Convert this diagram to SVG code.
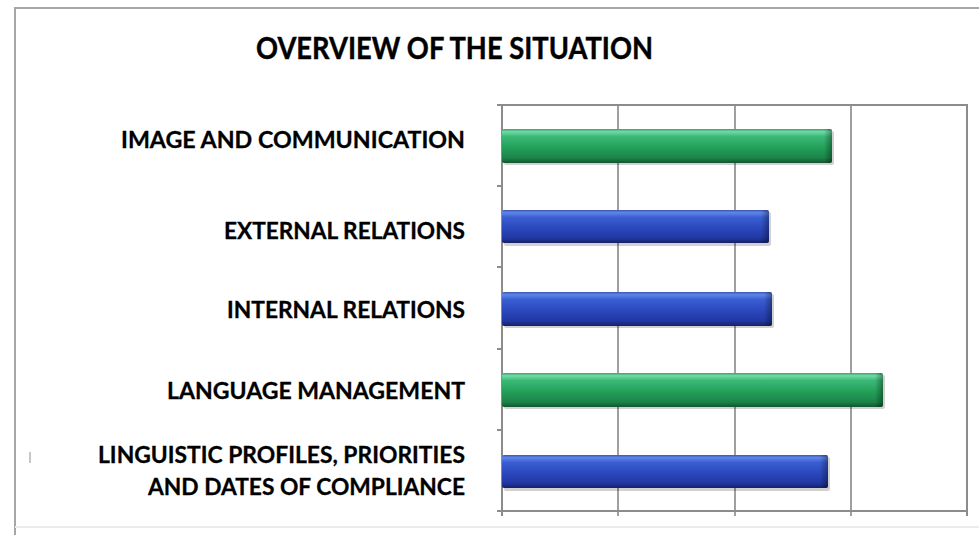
<svg xmlns="http://www.w3.org/2000/svg" width="979" height="535" viewBox="0 0 979 535">
  <defs>
    <linearGradient id="gGreen" x1="0" y1="0" x2="0" y2="1">
      <stop offset="0" stop-color="#3f9e6a"/>
      <stop offset="0.08" stop-color="#6fdca6"/>
      <stop offset="0.22" stop-color="#3cb877"/>
      <stop offset="0.55" stop-color="#22a058"/>
      <stop offset="0.85" stop-color="#1c8449"/>
      <stop offset="1" stop-color="#135530"/>
    </linearGradient>
    <linearGradient id="gBlue" x1="0" y1="0" x2="0" y2="1">
      <stop offset="0" stop-color="#3a56b0"/>
      <stop offset="0.08" stop-color="#5f86ea"/>
      <stop offset="0.22" stop-color="#3a5fd2"/>
      <stop offset="0.55" stop-color="#2b48bd"/>
      <stop offset="0.85" stop-color="#2237a2"/>
      <stop offset="1" stop-color="#152166"/>
    </linearGradient>
    <linearGradient id="gEnd" x1="0" y1="0" x2="1" y2="0">
      <stop offset="0" stop-color="#000" stop-opacity="0"/>
      <stop offset="1" stop-color="#000" stop-opacity="0.35"/>
    </linearGradient>
  </defs>
  <style>
    .lbl { font-family: Lato, "Liberation Sans", sans-serif; font-weight: bold; font-size: 23px; fill: #000; text-anchor: end; stroke: #000; stroke-width: 0.3px; }
    .title { font-family: Lato, "Liberation Sans", sans-serif; font-weight: bold; font-size: 30px; fill: #000; stroke: #000; stroke-width: 0.4px; }
    .frame { fill: none; stroke: #a6a6a6; stroke-width: 2; }
    .grid { stroke: #7f7f7f; stroke-width: 1.5; fill: none; }
    .axis { stroke: #8c8c8c; stroke-width: 2; fill: none; }
    .shadow { fill: #000; opacity: 0.18; }
    .green { fill: url(#gGreen); }
    .blue { fill: url(#gBlue); }
    .endshade { fill: url(#gEnd); }
  </style>

  <rect width="979" height="535" fill="#ffffff"/>

  <g id="frame">
    <path class="frame" d="M15,535 V8 H979"/>
    <line x1="15" y1="527" x2="979" y2="527" stroke="#ececec" stroke-width="2"/>
    <rect x="29" y="452" width="2" height="11" fill="#c8c8c8"/>
  </g>

  <g id="title">
    <text class="title" x="256" y="59" textLength="397" lengthAdjust="spacingAndGlyphs">OVERVIEW OF THE SITUATION</text>
  </g>

  <g id="plot">
    <rect x="502" y="105" width="465" height="406" fill="#ffffff"/>
    <line class="grid" x1="618" y1="105" x2="618" y2="516"/>
    <line class="grid" x1="735" y1="105" x2="735" y2="516"/>
    <line class="grid" x1="851" y1="105" x2="851" y2="516"/>
    <path class="axis" d="M502,105 H967 V511 H502 Z"/>
    <path class="axis" d="M497,105 H502 M497,186 H502 M497,267 H502 M497,349 H502 M497,430 H502 M497,511 H502 M502,511 V516 M967,511 V516"/>
  </g>

  <g id="bar-image">
    <rect class="shadow" x="504" y="131" width="330" height="34" rx="2"/>
    <rect class="green" x="502" y="129" width="330" height="34" rx="2"/>
    <rect class="endshade" x="824" y="129" width="8" height="34" rx="2"/>
  </g>
  <g id="bar-external">
    <rect class="shadow" x="504" y="212" width="267" height="34" rx="2"/>
    <rect class="blue" x="502" y="210" width="267" height="33" rx="2"/>
    <rect class="endshade" x="761" y="210" width="8" height="33" rx="2"/>
  </g>
  <g id="bar-internal">
    <rect class="shadow" x="504" y="294" width="270" height="34" rx="2"/>
    <rect class="blue" x="502" y="292" width="270" height="34" rx="2"/>
    <rect class="endshade" x="764" y="292" width="8" height="34" rx="2"/>
  </g>
  <g id="bar-language">
    <rect class="shadow" x="504" y="375" width="381" height="34" rx="2"/>
    <rect class="green" x="502" y="373" width="381" height="34" rx="2"/>
    <rect class="endshade" x="875" y="373" width="8" height="34" rx="2"/>
  </g>
  <g id="bar-linguistic">
    <rect class="shadow" x="504" y="457" width="326" height="34" rx="2"/>
    <rect class="blue" x="502" y="455" width="326" height="33" rx="2"/>
    <rect class="endshade" x="820" y="455" width="8" height="33" rx="2"/>
  </g>

  <g id="label-image">
    <text class="lbl" x="465" y="148" textLength="344" lengthAdjust="spacingAndGlyphs">IMAGE AND COMMUNICATION</text>
  </g>
  <g id="label-external">
    <text class="lbl" x="465" y="239" textLength="241" lengthAdjust="spacingAndGlyphs">EXTERNAL RELATIONS</text>
  </g>
  <g id="label-internal">
    <text class="lbl" x="465" y="318" textLength="238" lengthAdjust="spacingAndGlyphs">INTERNAL RELATIONS</text>
  </g>
  <g id="label-language">
    <text class="lbl" x="465" y="399" textLength="298" lengthAdjust="spacingAndGlyphs">LANGUAGE MANAGEMENT</text>
  </g>
  <g id="label-linguistic">
    <text class="lbl" x="465" y="463" textLength="367" lengthAdjust="spacingAndGlyphs">LINGUISTIC PROFILES, PRIORITIES</text>
    <text class="lbl" x="465" y="495" textLength="317" lengthAdjust="spacingAndGlyphs">AND DATES OF COMPLIANCE</text>
  </g>
</svg>
